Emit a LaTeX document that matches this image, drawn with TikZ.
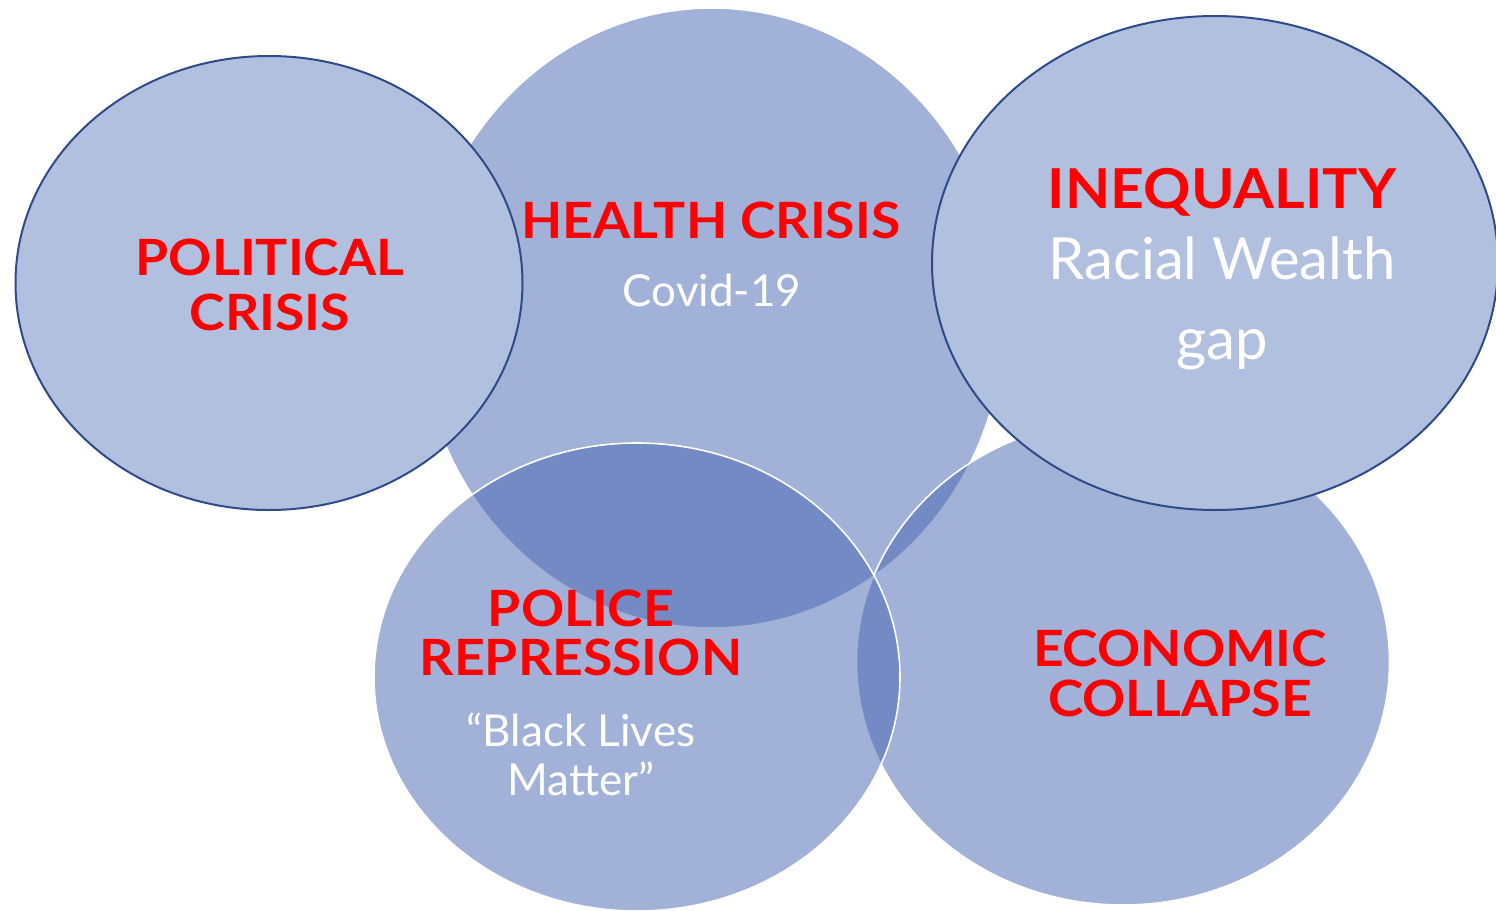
\documentclass[tikz,border=0pt]{standalone}
\usepackage{fontspec}
\setmainfont{Lato}
\newfontfamily\headfont[FakeStretch=1.07]{Lato}
\usetikzlibrary{shapes.geometric}
\definecolor{bubble}{RGB}{69,99,177}
\definecolor{topfill}{RGB}{178,192,224}
\definecolor{rim}{RGB}{47,75,135}
\definecolor{alert}{RGB}{255,0,0}
\begin{document}
\begin{tikzpicture}[x=1pt,y=-1pt,
  softbubble/.style={ellipse, draw=white, line width=1.6pt, fill=bubble,
    fill opacity=0.5, draw opacity=1, inner sep=0pt},
  solidbubble/.style={ellipse, draw=rim, line width=2pt, fill=topfill, inner sep=0pt},
  head/.style={text=alert, align=center, inner sep=0pt,
    font=\headfont\bfseries\fontsize{50}{55}\selectfont},
  sub/.style={text=white, align=center, inner sep=0pt}]
\useasboundingbox (0,0) rectangle (1496,910);

% translucent bubbles (overlaps darken)
\node[softbubble, minimum width=584pt, minimum height=620pt] (health) at (712,318) {};
\node[softbubble, minimum width=533pt, minimum height=486pt] (economy) at (1123,662) {};
\node[softbubble, minimum width=526pt, minimum height=468pt] (police) at (637,677) {};

% opaque bubbles on top
\node[solidbubble, minimum width=507pt, minimum height=454pt] (politics) at (269,283) {};
\node[solidbubble, minimum width=566pt, minimum height=494pt] (inequality) at (1215,263) {};

% labels
\node[head] (politicsT) at (270,285) {POLITICAL\\CRISIS};
\node[head] (healthT) at (711,220) {HEALTH CRISIS};
\node[sub, font=\fontsize{44}{48}\selectfont] (healthS) at (712,290) {Covid-19};
\node[head, font=\headfont\bfseries\fontsize{55}{60}\selectfont] (inequalityT) at (1222,192) {INEQUALITY};
\node[sub, font=\fontsize{58}{80}\selectfont] (inequalityS) at (1222,303) {Racial Wealth\\gap};
\node[head, font=\headfont\bfseries\fontsize{50}{49}\selectfont] (policeT) at (581,633) {POLICE\\REPRESSION};
\node[sub, font=\fontsize{44}{49}\selectfont] (policeS) at (581,754) {“Black Lives\\Matter”};
\node[head, font=\headfont\bfseries\fontsize{50}{50}\selectfont] (economyT) at (1180,673) {ECONOMIC\\COLLAPSE};
\end{tikzpicture}
\end{document}
